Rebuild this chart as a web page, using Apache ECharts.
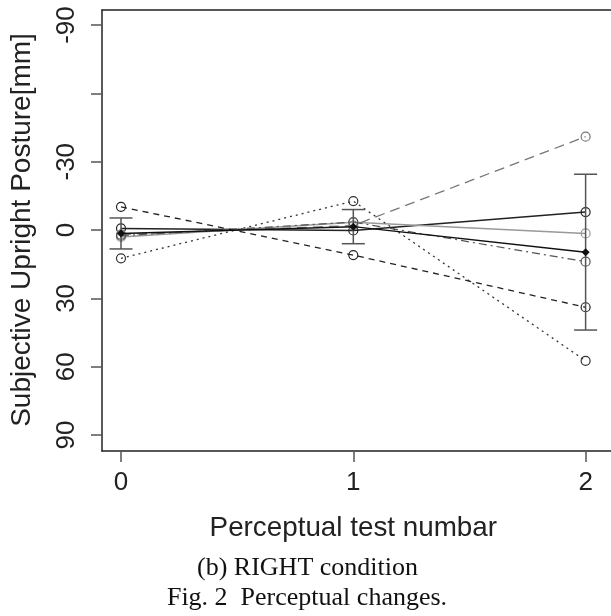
<!DOCTYPE html>
<html>
<head>
<meta charset="utf-8">
<script src="https://cdn.jsdelivr.net/npm/echarts@6/dist/echarts.min.js"></script>
<style>
html,body{margin:0;padding:0;background:#fff;}
#chart{width:611px;height:616px;}
</style>
</head>
<body>
<div id="chart"></div>
<script>
// Data
var testNumbers = [0, 1, 2];
var subjectSolidBlack = [-0.7, 0.2, -7.9];
var subjectSolidGray = [3.0, -3.4, 1.5];
var subjectLongDashGray = [2.0, -2.0, -41.0];
var subjectDashDot = [2.5, -3.5, 13.9];
var subjectDashed = [-10.2, 11.0, 33.9];
var subjectDotted = [12.4, -12.7, 57.4];
var meanValues = [1.5, -1.5, 9.7];
var sdValues = [6.8, 7.5, 34.2];
var xTickLabels = [0, 1, 2];
var yTickValues = [-90, -60, -30, 0, 30, 60, 90];
var yLabelValues = [-90, -30, 0, 30, 60, 90];

function pairs(vals) {
  return testNumbers.map(function (x, i) { return [x, vals[i]]; });
}

function subjectSeries(name, vals, color, type, width) {
  return {
    name: name,
    type: 'line',
    data: pairs(vals),
    symbol: 'circle',
    symbolSize: 9,
    lineStyle: { color: color, width: width, type: type },
    itemStyle: { color: 'rgba(0,0,0,0)', borderColor: color, borderWidth: 1.2 },
    z: 3
  };
}

var errData = testNumbers.map(function (x, i) {
  return [x, meanValues[i] - sdValues[i], meanValues[i] + sdValues[i]];
});

var X_MIN = -0.0818, X_MAX = 2.1093;
var boxLine = { show: true, onZero: false, lineStyle: { color: '#222', width: 1.5 } };

var chart = echarts.init(document.getElementById('chart'), null, { renderer: 'canvas' });
var option = {
  animation: false,
  backgroundColor: '#fff',
  grid: { left: 102, top: 10, right: 0, bottom: 165 },
  xAxis: [{
    type: 'value',
    position: 'bottom',
    min: X_MIN,
    max: X_MAX,
    axisLine: boxLine,
    splitLine: { show: false },
    axisTick: { show: true, inside: false, customValues: xTickLabels, length: 11, lineStyle: { color: '#555', width: 1.5 } },
    axisLabel: {
      customValues: xTickLabels, margin: 19, fontSize: 26,
      fontFamily: 'Liberation Sans', color: '#222'
    }
  }, {
    type: 'value',
    position: 'top',
    min: X_MIN,
    max: X_MAX,
    axisLine: boxLine,
    splitLine: { show: false },
    axisTick: { show: false },
    axisLabel: { show: false }
  }],
  yAxis: {
    type: 'value',
    position: 'left',
    inverse: true,
    min: -96.6,
    max: 97.0,
    axisLine: boxLine,
    splitLine: { show: false },
    axisTick: { show: true, inside: false, customValues: yTickValues, length: 11, lineStyle: { color: '#555', width: 1.5 } },
    axisLabel: {
      customValues: yLabelValues, rotate: 90, margin: 22, fontSize: 26,
      fontFamily: 'Liberation Sans', color: '#222'
    }
  },
  graphic: [
    { type: 'text', x: 22.5, y: 230, rotation: Math.PI / 2,
      style: { text: 'Subjective Upright Posture[mm]', fontSize: 28, fontFamily: 'Liberation Sans',
        fill: '#222', align: 'center', verticalAlign: 'middle' } },
    { type: 'text', x: 353.3, y: 528,
      style: { text: 'Perceptual test numbar', fontSize: 27.8, fontFamily: 'Liberation Sans',
        fill: '#222', align: 'center', verticalAlign: 'middle' } },
    { type: 'text', x: 307.5, y: 568,
      style: { text: '(b) RIGHT condition', fontSize: 26, fontFamily: 'Liberation Serif',
        fill: '#111', align: 'center', verticalAlign: 'middle' } },
    { type: 'text', x: 307, y: 598,
      style: { text: 'Fig. 2  Perceptual changes.', fontSize: 26, fontFamily: 'Liberation Serif',
        fill: '#111', align: 'center', verticalAlign: 'middle' } }
  ],
  series: [
    subjectSeries('s1', subjectSolidBlack, '#222', 'solid', 1.5),
    subjectSeries('s2', subjectSolidGray, '#999', 'solid', 1.5),
    subjectSeries('s3', subjectLongDashGray, '#777', [10, 6], 1.3),
    subjectSeries('s4', subjectDashDot, '#555', [8, 4, 2, 4], 1.2),
    subjectSeries('s5', subjectDashed, '#222', [6, 5], 1.3),
    subjectSeries('s6', subjectDotted, '#333', [2, 4], 1.3),
    {
      name: 'mean',
      type: 'line',
      data: pairs(meanValues),
      symbol: 'diamond',
      symbolSize: 8,
      lineStyle: { color: '#111', width: 1.5 },
      itemStyle: { color: '#111' },
      z: 5
    },
    {
      name: 'sd',
      type: 'custom',
      data: errData,
      z: 4,
      renderItem: function (params, api) {
        var x = api.value(0);
        var lo = api.coord([x, api.value(1)]);
        var hi = api.coord([x, api.value(2)]);
        var hw = 11.5;
        var st = { stroke: '#555', lineWidth: 1.5, fill: null };
        return {
          type: 'group',
          children: [
            { type: 'line', shape: { x1: lo[0], y1: lo[1], x2: hi[0], y2: hi[1] }, style: st },
            { type: 'line', shape: { x1: lo[0] - hw, y1: lo[1], x2: lo[0] + hw, y2: lo[1] }, style: st },
            { type: 'line', shape: { x1: hi[0] - hw, y1: hi[1], x2: hi[0] + hw, y2: hi[1] }, style: st }
          ]
        };
      }
    }
  ]
};
chart.setOption(option);
</script>
</body>
</html>
